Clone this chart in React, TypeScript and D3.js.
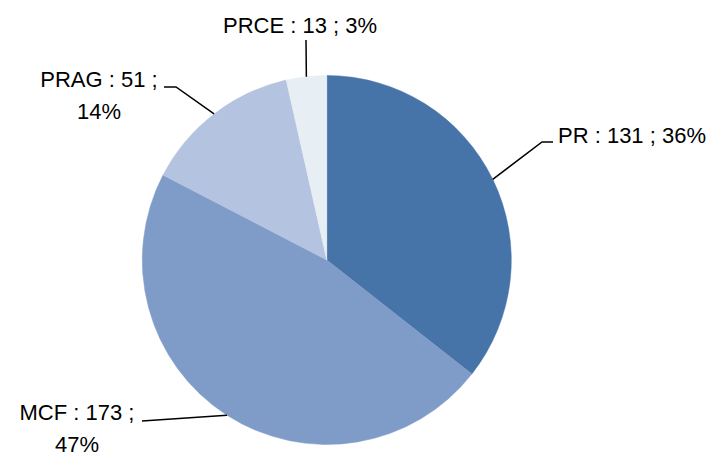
import React from "react";
import * as d3 from "d3";

const categories = ["PR", "MCF", "PRAG", "PRCE"];
const values = [131, 173, 51, 13];
const percents = ["36%", "47%", "14%", "3%"];
const colors = ["#4674a9", "#7f9cc9", "#b4c3df", "#e7eef4"];

// layout of labels (not data)
const labelLayout = [
  { lines: (c: string, v: number, p: string) => [`${c} : ${v} ; ${p}`], x: 558, y: 143, anchor: "start", elbow: [[542, 142], [553, 142]] },
  { lines: (c: string, v: number, p: string) => [`${c} : ${v} ;`, p], x: 77, y: 420, anchor: "middle", elbow: [[142, 421]] },
  { lines: (c: string, v: number, p: string) => [`${c} : ${v} ;`, p], x: 99, y: 87, anchor: "middle", elbow: [[176, 87], [164, 87]] },
  { lines: (c: string, v: number, p: string) => [`${c} : ${v} ; ${p}`], x: 300, y: 33, anchor: "middle", elbow: [[306, 40]] },
];

const W = 718, H = 455;
const cx = 326.8, cy = 260, R = 184.5;

export default function App() {
  const data = categories.map((c, i) => ({ c, v: values[i], p: percents[i], i }));
  const pie = d3.pie<any>().value((d) => d.v).sort(null);
  const arcs = pie(data);
  const arc = d3.arc<any>().innerRadius(0).outerRadius(R);
  const line = d3.line();
  return (
    <svg width={W} height={H} style={{ position: "absolute", left: 0, top: 0 }}>
      <rect width={W} height={H} fill="#fff" />
      <g transform={`translate(${cx},${cy})`}>
        {arcs.map((a, i) => (
          <path key={i} d={arc(a) || ""} fill={colors[i]} stroke={colors[i]} strokeWidth={0.5} />
        ))}
      </g>
      {arcs.map((a, i) => {
        const mid = (a.startAngle + a.endAngle) / 2;
        const sx = cx + R * Math.sin(mid);
        const sy = cy - R * Math.cos(mid);
        const L = labelLayout[i];
        const pts: [number, number][] = [[sx, sy], ...(L.elbow as [number, number][])];
        const lines = L.lines(a.data.c, a.data.v, a.data.p);
        return (
          <g key={i}>
            <path d={line(pts) || ""} fill="none" stroke="#000" strokeWidth={1.5} />
            <text
              x={L.x}
              y={L.y}
              textAnchor={L.anchor as any}
              fontFamily="'Liberation Sans', Arial, sans-serif"
              fontSize={22}
              fill="#000"
            >
              {lines.map((t, j) => (
                <tspan key={j} x={L.x} dy={j === 0 ? 0 : 32}>{t}</tspan>
              ))}
            </text>
          </g>
        );
      })}
    </svg>
  );
}
